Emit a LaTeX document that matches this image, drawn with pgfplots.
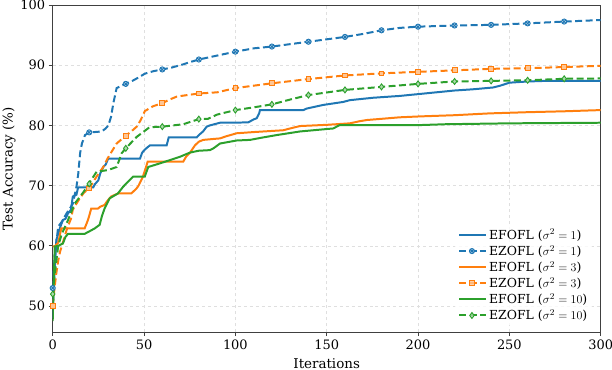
\documentclass[border=0pt]{standalone}
\usepackage{pgfplots}
\pgfplotsset{compat=1.18}
\usepackage{fontspec}
\setmainfont{DejaVu Serif}

\definecolor{tabblue}{HTML}{1F77B4}
\definecolor{taborange}{HTML}{FF7F0E}
\definecolor{tabgreen}{HTML}{2CA02C}

\tikzset{mpldash/.style={dash pattern=on 7pt off 3.5pt}}

\begin{document}
\begin{tikzpicture}
\begin{axis}[
    scale only axis,
    width=548bp, height=327bp,
    xmin=0, xmax=300,
    ymin=45.7, ymax=100,
    xtick={0,50,...,300},
    ytick={50,60,...,100},
    xlabel={Iterations},
    ylabel={Test Accuracy (\%)},
    label style={font=\fontsize{13.5}{15}\selectfont},
    tick label style={font=\fontsize{13}{15}\selectfont},
    /pgf/number format/assume math mode=true,
    grid=major,
    major grid style={dashed, gray!25, line width=0.6pt},
    axis line style={black!75, line width=0.9pt},
    tick align=outside,
    tick pos=left,
    major tick length=4bp,
    tick style={black!75, line width=0.8pt},
    xlabel style={at={(axis description cs:0.5,0)}, anchor=base, yshift=-36bp},
    ylabel style={at={(axis description cs:0,0.5)}, anchor=base, yshift=40bp},
    legend style={draw=none, fill=white, fill opacity=0.8, text opacity=1,
        at={(rel axis cs:0.985,0.02)}, anchor=south east,
        row sep=0.5bp, font=\fontsize{12.5}{14}\selectfont},
    legend cell align=left,
    legend image code/.code={
        \draw[#1] (0cm,0cm) -- (0.95cm,0cm);
        \draw[#1, solid, only marks] plot coordinates {(0.45cm,0cm)};
    },
]
\coordinate (ll) at (rel axis cs:0,0);
\coordinate (ur) at (rel axis cs:1,1);

% EFOFL sigma^2 = 1
\addplot[tabblue, line width=2pt, forget plot] coordinates {
(0,48) (0.5,53) (1,55.5) (2,61) (3,62) (4,63) (5.6,64.3) (7,64.5) (8.4,65.4) (10,66)
(11,68.2) (13,68.5) (13.9,69.7) (22.2,69.7) (23,70.2) (25,70.9) (26,72) (27.7,73.1)
(29,73.5) (30.4,74.5) (47.8,74.5) (49,75.5) (50.5,76) (52,76.4) (53.3,76.7) (62.4,76.7)
(63.5,78) (78.8,78) (80,78.4) (82.3,79) (84.3,79.8) (86,80) (91.6,80.45) (107,80.5)
(110,81) (111.7,81.2) (113,82) (113.5,82.55) (137.2,82.55) (139,82.8) (148,83.4)
(159,83.9) (162.7,84.2) (175.5,84.6) (190,84.9) (200,85.2) (210,85.5) (220,85.8)
(230,86.0) (241,86.3) (245,86.6) (250,87.1) (260,87.3) (270,87.4) (300,87.4)
};

% EZOFL sigma^2 = 1
\addplot[tabblue, line width=2pt, mpldash, forget plot] coordinates {
(0,53) (1,58) (2,60.5) (3,63.2) (5,64) (7.6,65.4) (10,66.5) (11,67) (13,69.8) (14,72)
(15,75.4) (16,77) (17.7,78.4) (20,78.85) (23,78.9) (26.8,79.0) (29,79.5) (30.5,80)
(32,81.5) (33.2,83.7) (35,86.2) (37,86.5) (40,86.9) (43,87.3) (46,87.8) (50.5,88.6)
(55,89) (60,89.3) (65,89.6) (71.5,90.15) (75,90.5) (80,90.95) (90,91.6) (100,92.25)
(110,92.8) (120,93.1) (130,93.5) (140,93.9) (150,94.3) (160,94.7) (170,95.2) (180,95.8)
(190,96.2) (200,96.4) (220,96.6) (240,96.7) (260,96.95) (280,97.25) (300,97.5)
};
\addplot[only marks, tabblue, mark=otimes*, mark size=2.6pt,
    mark options={fill=tabblue!25, line width=0.9pt}, forget plot] coordinates {
(0,53) (20,78.85) (40,86.9) (60,89.3) (80,90.95) (100,92.25) (120,93.1) (140,93.9)
(160,94.7) (180,95.8) (200,96.4) (220,96.6) (240,96.7) (260,96.95) (280,97.25)
};

% EFOFL sigma^2 = 3
\addplot[taborange, line width=2pt, forget plot] coordinates {
(0,59.9) (1,59.9) (3,60.5) (4.7,62.9) (17.5,62.9) (19.3,64.3) (20,65) (21.1,66.2)
(24.8,66.2) (26,66.5) (28.4,66.8) (30,67.5) (32,68.2) (35.7,68.7) (43,68.7) (45.8,69.5)
(47,70) (49.4,71.5) (51,73) (52,74) (71.5,74) (73,74.8) (75,75.4) (77.9,76.7) (80,77.3)
(82.4,77.6) (91.6,77.85) (95,78.2) (100.7,78.7) (110,78.9) (126.2,79.2) (130,79.5)
(135.4,79.9) (150,80.1) (162.7,80.35) (168,80.7) (172,80.9) (180,81.1) (190,81.35)
(201,81.5) (220,81.7) (239,82) (260,82.2) (280,82.35) (300,82.55)
};

% EZOFL sigma^2 = 3
\addplot[taborange, line width=2pt, mpldash, forget plot] coordinates {
(0,50) (1,53) (2,55.5) (3,57.5) (4,59) (5,60) (6,61) (8,63) (10,64.5) (11,66) (14,67.5)
(17,68.8) (20,69.55) (24,71.5) (27.7,73.1) (30,74.5) (35,77) (40,78.3) (43,79) (46,79.8)
(48,80.8) (50.5,82.4) (55,83.2) (60,83.7) (64,84.3) (68,84.8) (75,85.1) (80,85.3)
(90,85.5) (100,86.2) (110,86.6) (120,87.0) (140,87.7) (160,88.3) (180,88.65) (200,88.9)
(220,89.15) (240,89.4) (260,89.5) (280,89.7) (300,89.9)
};
\addplot[only marks, taborange, mark=square*, mark size=2.4pt,
    mark options={fill=taborange!45, line width=0.9pt}, forget plot] coordinates {
(0,50) (20,69.55) (40,78.3) (60,83.7) (80,85.3) (100,86.2) (120,87.0) (140,87.7)
(160,88.3) (180,88.65) (200,88.9) (220,89.15) (240,89.4) (260,89.5) (280,89.7)
};

% EFOFL sigma^2 = 10
\addplot[tabgreen, line width=2pt, forget plot] coordinates {
(0,47.5) (0.5,53) (1.1,59.9) (3,60) (5.6,60.4) (7,61.5) (8.4,62) (17.5,62) (20,62.4)
(23,62.9) (25.7,63.5) (27,65) (28.4,66.2) (31.2,67.9) (35.7,68.7) (38.5,69.8)
(41.2,70.65) (44,71.5) (50.4,71.5) (52.3,73.1) (58.7,73.7) (64.2,74.25) (69.7,74.8)
(75.2,75.5) (80,75.8) (86,75.9) (88,76.2) (91.6,77.0) (100.7,77.5) (108,77.6) (115,78)
(122.6,78.4) (135.4,79.0) (153.6,79.5) (157,80.05) (200,80.05) (215,80.2) (250,80.35)
(300,80.45)
};

% EZOFL sigma^2 = 10
\addplot[tabgreen, line width=2pt, mpldash, forget plot] coordinates {
(0,52) (1,55) (3,60) (5,62) (8,64) (12,67) (17,69) (19.5,70.2) (24,72.3) (30.4,72.6)
(35,73.1) (37.8,75.4) (40,76.2) (46,78.1) (53,79.7) (60,79.8) (71.5,80.2) (80,81.05)
(85,81.1) (90,81.8) (100,82.55) (110,83) (120,83.5) (130,84.3) (140,85.05) (160,85.9)
(180,86.4) (200,86.9) (220,87.3) (240,87.4) (260,87.5) (280,87.75) (300,87.8)
};
\addplot[only marks, tabgreen, mark=diamond*, mark size=3pt,
    mark options={fill=tabgreen!40, line width=0.9pt}, forget plot] coordinates {
(0,52) (20,70.3) (40,76.2) (60,79.8) (80,81.05) (100,82.55) (120,83.5) (140,85.05)
(160,85.9) (180,86.4) (200,86.9) (220,87.3) (240,87.4) (260,87.5) (280,87.75)
};

\addlegendimage{tabblue, solid, line width=2pt, mark=none}
\addlegendimage{tabblue, line width=2pt, mpldash, mark=otimes*, mark size=2.6pt, mark options={fill=tabblue!25, solid, line width=0.9pt}}
\addlegendimage{taborange, solid, line width=2pt, mark=none}
\addlegendimage{taborange, line width=2pt, mpldash, mark=square*, mark size=2.4pt, mark options={fill=taborange!45, solid, line width=0.9pt}}
\addlegendimage{tabgreen, solid, line width=2pt, mark=none}
\addlegendimage{tabgreen, line width=2pt, mpldash, mark=diamond*, mark size=3pt, mark options={fill=tabgreen!40, solid, line width=0.9pt}}
\legend{EFOFL ($\sigma^2=1$), EZOFL ($\sigma^2=1$), EFOFL ($\sigma^2=3$),
        EZOFL ($\sigma^2=3$), EFOFL ($\sigma^2=10$), EZOFL ($\sigma^2=10$)}
\end{axis}
\pgfresetboundingbox
\path ([shift={(-52.7bp,-38bp)}]ll) rectangle ([shift={(11.3bp,5bp)}]ur);
\end{tikzpicture}
\end{document}
